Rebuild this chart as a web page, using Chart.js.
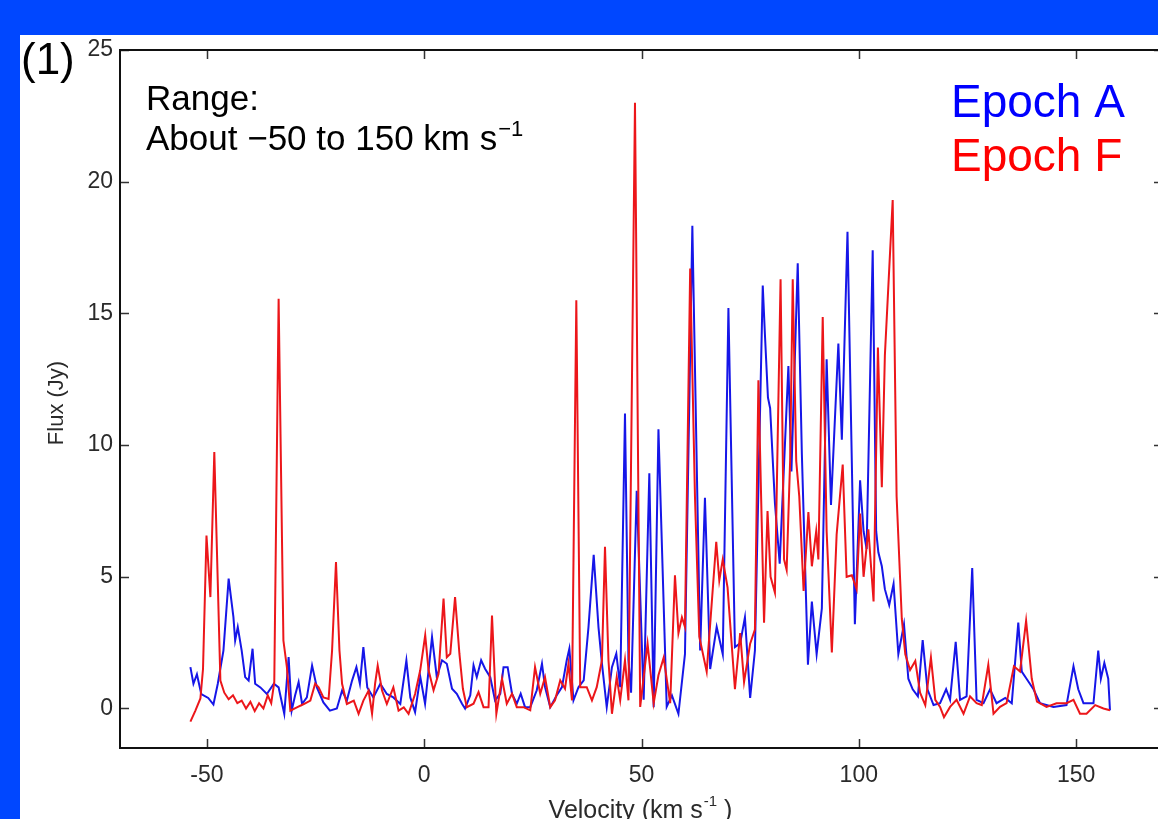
<!DOCTYPE html>
<html>
<head>
<meta charset="utf-8">
<script src="https://cdn.jsdelivr.net/npm/chart.js@4"></script>
<style>
  html, body { margin: 0; padding: 0; background: #fff; overflow: hidden; }
  canvas { display: block; }
</style>
</head>
<body>
<canvas id="myChart" width="1170" height="819"></canvas>
<script>
// Epoch A (blue) - velocity (km/s) and flux (Jy)
const velA = [-53.8,-53.1,-52.3,-51.3,-49.7,-48.5,-47.5,-46.2,-45.0,-43.9,-43.5,-42.9,-42.0,-41.2,-40.4,-39.5,-38.9,-37.7,-36.2,-34.6,
  -33.5,-32.2,-31.2,-30.5,-29.7,-28.9,-28.1,-27.0,-25.8,-24.7,-23.2,-21.7,-20.1,-18.9,-17.8,-16.6,-15.6,-14.8,-14.0,-13.1,
  -11.7,-10.1,-8.6,-7.1,-5.5,-4.1,-3.2,-2.1,-0.9,0.2,1.8,2.9,4.1,5.2,6.4,7.5,8.7,9.4,10.6,11.35,
  12.1,13.1,14.0,15.2,16.3,17.5,18.25,19.2,20.2,21.3,22.2,23.2,24.4,25.9,27.1,27.8,29.0,30.5,31.7,32.8,
  33.4,34.35,35.5,36.7,37.8,39.0,40.1,40.9,42.0,43.2,44.2,45.1,46.2,47.0,47.6,48.9,50.5,51.8,52.8,53.9,
  55.8,57.0,58.5,60.0,61.7,63.5,64.6,65.8,67.3,68.7,70.0,71.5,72.7,73.8,75.0,76.1,77.9,78.4,79.1,79.6,
  80.7,81.8,83.8,84.5,85.95,86.9,88.3,89.2,90.3,91.5,92.6,93.6,95.3,96.1,97.4,99.1,100.3,101.1,101.8,103.2,
  104.0,104.5,105.3,106.0,107.0,108.0,109.1,110.4,111.4,112.4,113.6,114.7,115.8,117.2,118.7,120.1,121.0,122.3,123.3,124.8,
  126.1,127.1,128.7,130.2,131.7,133.7,135.2,136.7,137.5,138.6,140.2,141.7,144.8,147.8,149.4,150.5,151.7,154.0,155.1,155.7,
  156.5,157.4,157.8];
const fluxA = [1.57,0.94,1.3,0.55,0.4,0.15,0.94,2.2,4.93,3.47,2.58,3.09,2.2,1.19,1.06,2.27,0.94,0.8,0.55,0.94,
  0.8,-0.2,1.95,-0.08,0.5,1.0,0.17,0.42,1.63,0.8,0.23,-0.08,0.0,0.68,0.3,1.06,1.57,0.94,2.33,0.8,
  0.42,0.94,0.55,0.42,0.17,1.82,0.42,-0.14,1.2,0.18,2.71,1.19,1.83,1.7,0.75,0.56,0.18,0.0,0.5,1.64,
  1.19,1.83,1.51,1.19,0.31,0.56,1.57,1.57,0.56,0.18,0.56,0.05,0.05,0.69,1.7,0.81,0.05,0.5,0.81,1.83,
  2.27,0.31,0.81,1.07,3.09,5.83,3.09,1.7,0.05,1.57,2.08,0.81,11.2,1.83,0.6,8.27,0.33,8.93,0.05,10.6,
  0.07,0.5,-0.2,2.06,18.33,2.2,8.0,1.5,3.1,2.06,15.2,2.33,2.47,3.46,0.4,2.2,16.06,14.2,11.8,11.4,
  7.8,5.5,13.0,9.0,16.9,9.66,1.66,4.06,2.06,3.8,13.26,7.73,13.86,10.2,18.1,3.2,8.66,6.73,6.06,17.4,
  6.73,5.93,5.4,4.53,3.93,4.73,2.06,3.2,1.13,0.73,0.46,2.6,0.73,0.13,0.2,0.73,0.33,2.53,0.33,0.46,
  5.33,0.33,0.2,0.73,0.2,0.4,0.2,3.26,1.4,1.13,0.73,0.2,0.06,0.13,1.6,0.73,0.2,0.2,2.2,1.13,
  1.73,1.13,-0.07];

// Epoch F (red)
const velF = [-53.8,-52.7,-51.5,-50.9,-50.1,-49.2,-48.3,-46.9,-46.0,-45.0,-44.0,-43.0,-42.0,-41.0,-40.0,-39.0,-38.0,-37.0,-36.0,-35.2,
  -34.5,-33.5,-32.4,-31.6,-30.8,-29.3,-27.7,-26.2,-25.1,-24.3,-23.2,-22.0,-21.2,-20.3,-19.5,-18.9,-17.8,-16.2,-15.1,-14.0,
  -12.8,-12.0,-11.3,-10.7,-9.7,-8.6,-7.1,-5.9,-4.7,-3.6,-2.1,-0.92,0.23,1.0,2.15,3.3,4.45,5.2,6.0,7.1,
  8.1,8.9,9.8,11.35,12.5,13.65,14.8,15.6,16.6,17.9,19.0,20.2,21.3,22.85,24.4,25.5,26.7,27.8,29.0,30.1,
  31.3,32.4,33.2,34.0,35.0,35.9,37.4,38.6,39.7,40.9,41.6,42.4,43.2,44.3,45.1,46.2,47.0,48.5,49.7,51.4,
  52.8,53.9,55.1,56.6,57.7,58.5,59.3,60.0,61.2,62.3,63.3,65.0,67.2,67.9,68.7,69.8,71.5,72.7,73.6,75.0,
  76.1,76.9,78.2,79.0,79.7,80.7,82.0,82.8,83.4,84.2,84.8,85.6,86.3,87.3,88.4,89.2,90.2,90.7,91.7,92.6,
  93.8,94.9,96.3,97.2,98.4,99.5,100.3,101.1,102.2,103.4,104.4,105.3,106.0,107.8,108.7,109.9,110.7,111.8,113.0,114.1,
  115.3,116.6,117.6,118.7,119.6,121.0,122.5,124.1,125.6,127.1,128.3,129.8,131.0,132.5,134.0,135.7,137.1,138.5,139.8,141.0,
  143.2,145.5,147.8,149.4,150.9,152.4,154.4,156.3,157.8];
const fluxF = [-0.5,-0.1,0.38,1.5,6.57,4.23,9.74,1.06,0.6,0.35,0.5,0.2,0.3,0.0,0.25,-0.1,0.2,0.0,0.5,0.2,
  1.0,15.56,2.58,1.57,-0.08,0.04,0.17,0.3,0.94,0.8,0.42,0.36,2.2,5.56,2.2,0.94,0.17,0.3,-0.2,0.3,
  0.68,-0.2,0.94,1.63,0.68,0.17,0.8,-0.08,0.04,-0.2,0.55,1.45,2.78,1.45,0.69,1.32,4.17,1.95,2.08,4.23,
  2.08,0.75,0.05,0.18,0.62,0.05,0.05,3.53,-0.2,1.13,0.18,0.56,0.05,0.05,-0.07,1.57,0.56,1.19,0.05,0.31,
  1.07,0.75,1.7,0.31,15.5,0.81,0.81,0.31,0.81,1.83,6.14,1.83,-0.2,1.19,0.31,1.83,0.31,23.0,0.06,2.46,
  0.2,1.26,1.93,0.2,5.06,2.86,3.46,3.1,16.7,8.06,2.73,1.4,6.33,4.86,5.66,4.6,0.73,2.86,1.0,2.46,
  3.0,12.46,3.26,7.5,5.0,4.4,16.3,5.66,5.26,9.4,16.3,9.4,8.06,4.46,7.46,5.4,6.73,5.66,14.86,6.73,
  2.13,6.6,9.26,5.0,5.06,4.53,7.4,5.0,6.8,4.06,13.7,8.4,13.4,19.3,8.06,3.4,2.06,1.46,1.8,0.6,
  0.13,1.93,0.33,0.06,-0.33,0.06,0.33,-0.2,0.46,0.2,0.13,1.66,-0.2,0.06,0.2,1.6,1.4,3.33,1.13,0.26,
  0.06,0.2,0.2,0.33,-0.2,-0.2,0.13,0.0,-0.07];

const xTicks = [-50, 0, 50, 100, 150];
const yTicks = [0, 5, 10, 15, 20, 25];

const FONT = '"Liberation Sans", Arial, Helvetica, sans-serif';
const BLUE_BG = '#0047ff';

const pointsA = velA.map((v, i) => ({ x: v, y: fluxA[i] }));
const pointsF = velF.map((v, i) => ({ x: v, y: fluxF[i] }));

// background frame, box, inward ticks and texts
const framePlugin = {
  id: 'frame',
  beforeDraw(chart) {
    const ctx = chart.ctx;
    ctx.save();
    ctx.fillStyle = '#fff';
    ctx.fillRect(0, 0, chart.width, chart.height);
    ctx.fillStyle = BLUE_BG;
    ctx.fillRect(0, 0, chart.width, 35);
    ctx.fillRect(0, 0, 20, chart.height);
    ctx.restore();
  },
  afterDraw(chart) {
    const ctx = chart.ctx;
    const a = chart.chartArea;
    const xs = chart.scales.x, ys = chart.scales.y;
    ctx.save();
    // inward ticks
    ctx.strokeStyle = '#333';
    ctx.lineWidth = 1.5;
    ctx.beginPath();
    xs.ticks.forEach(t => {
      const px = Math.round(xs.getPixelForValue(t.value)) + 0.5;
      ctx.moveTo(px, a.bottom); ctx.lineTo(px, a.bottom - 9);
      ctx.moveTo(px, a.top); ctx.lineTo(px, a.top + 9);
    });
    ys.ticks.forEach(t => {
      const py = Math.round(ys.getPixelForValue(t.value)) + 0.5;
      ctx.moveTo(a.left, py); ctx.lineTo(a.left + 9, py);
      ctx.moveTo(a.right, py); ctx.lineTo(a.right - 9, py);
    });
    ctx.stroke();
    // box
    ctx.strokeStyle = '#111';
    ctx.lineWidth = 2;
    ctx.strokeRect(a.left, a.top, a.right - a.left, a.bottom - a.top);

    // axis titles
    ctx.fillStyle = '#2a2a2a';
    ctx.font = '22px ' + FONT;
    ctx.save();
    ctx.translate(57, 403);
    ctx.rotate(-Math.PI / 2);
    ctx.textAlign = 'center';
    ctx.textBaseline = 'middle';
    ctx.fillText('Flux (Jy)', 0, 0);
    ctx.restore();

    ctx.textBaseline = 'alphabetic';
    ctx.textAlign = 'left';
    const t1 = 'Velocity (km s', sup = '-1', t2 = ' )';
    ctx.font = '25px ' + FONT;
    const w1 = ctx.measureText(t1).width, w2 = ctx.measureText(t2).width;
    ctx.font = '15px ' + FONT;
    const ws = ctx.measureText(sup).width;
    let x0 = 640 - (w1 + ws + w2) / 2;
    ctx.font = '25px ' + FONT;
    ctx.fillText(t1, x0, 818);
    ctx.font = '15px ' + FONT;
    ctx.fillText(sup, x0 + w1 + 1, 806);
    ctx.font = '25px ' + FONT;
    ctx.fillText(t2, x0 + w1 + ws + 1, 818);

    // panel label and annotation
    ctx.fillStyle = '#000';
    ctx.font = '44px ' + FONT;
    ctx.fillText('(1)', 21, 74);
    ctx.font = '35px ' + FONT;
    ctx.fillText('Range:', 146, 110);
    const about = 'About \u221250 to 150 km s';
    ctx.fillText(about, 146, 150);
    const wa = ctx.measureText(about).width;
    ctx.font = '22px ' + FONT;
    ctx.fillText('\u22121', 146 + wa + 1, 136);

    // epoch labels
    ctx.font = '46px ' + FONT;
    ctx.fillStyle = '#0000ff';
    ctx.fillText('Epoch A', 951, 117);
    ctx.fillStyle = '#ff0000';
    ctx.fillText('Epoch F', 951, 171);
    ctx.restore();
  }
};

const ctx = document.getElementById('myChart').getContext('2d');
new Chart(ctx, {
  type: 'line',
  data: {
    datasets: [{
      label: 'Epoch F',
      data: pointsF,
      borderColor: 'rgb(236,22,26)',
      borderWidth: 2,
      pointRadius: 0,
      tension: 0,
      fill: false
    }, {
      label: 'Epoch A',
      data: pointsA,
      borderColor: 'rgb(22,22,232)',
      borderWidth: 2,
      pointRadius: 0,
      tension: 0,
      fill: false
    }]
  },
  options: {
    responsive: false,
    animation: false,
    devicePixelRatio: 1,
    layout: { padding: { top: 50, right: 7, left: 0, bottom: 0 } },
    plugins: {
      legend: { display: false },
      tooltip: { enabled: false }
    },
    scales: {
      x: {
        type: 'linear',
        min: -70,
        max: 170,
        afterBuildTicks: s => { s.ticks = xTicks.map(v => ({ value: v })); },
        afterFit: s => { s.height = 71; },
        grid: { display: false, drawTicks: false },
        border: { display: false },
        ticks: {
          autoSkip: false,
          maxRotation: 0,
          padding: 14,
          color: '#2a2a2a',
          font: { family: FONT, size: 23 }
        }
      },
      y: {
        type: 'linear',
        min: -1.5,
        max: 25,
        afterBuildTicks: s => { s.ticks = yTicks.map(v => ({ value: v })); },
        afterFit: s => { s.width = 120; },
        grid: { display: false, drawTicks: false },
        border: { display: false },
        ticks: {
          autoSkip: false,
          padding: 7,
          color: '#2a2a2a',
          font: { family: FONT, size: 23 }
        }
      }
    }
  },
  plugins: [framePlugin]
});
</script>
</body>
</html>
